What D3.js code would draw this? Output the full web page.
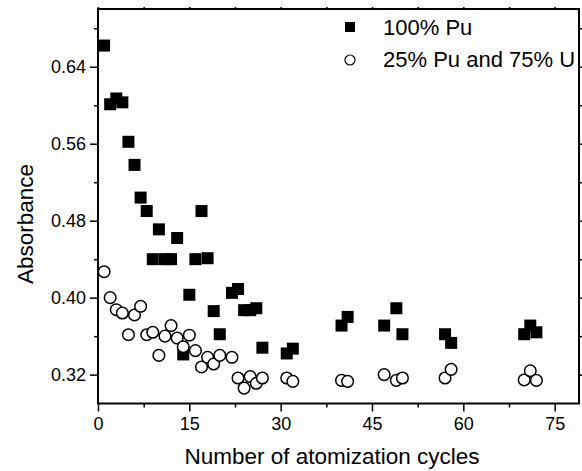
<!DOCTYPE html>
<html>
<head>
<meta charset="utf-8">
<script src="https://cdn.jsdelivr.net/npm/d3@7"></script>
<style>
  body { margin: 0; background: #fff; }
  svg { display: block; font-family: "Liberation Sans", Arial, sans-serif; }
</style>
</head>
<body>
<div id="chart"></div>
<script>
// data
let cyclesPu = [1, 2, 3, 4, 5, 6, 7, 8, 9, 10, 11, 12, 13, 14, 15, 16, 17, 18, 19, 20,
    22, 23, 24, 25, 26, 27, 31, 32, 40, 41, 47, 49, 50, 57, 58, 70, 71, 72];
let absPu = [0.662, 0.601, 0.607, 0.603, 0.562, 0.538, 0.504, 0.490, 0.440, 0.471,
    0.440, 0.440, 0.462, 0.341, 0.403, 0.440, 0.490, 0.441, 0.386, 0.362,
    0.405, 0.409, 0.387, 0.387, 0.389, 0.348, 0.342, 0.347, 0.371, 0.380,
    0.371, 0.389, 0.362, 0.362, 0.353, 0.362, 0.371, 0.364];

let cyclesMix = [1, 2, 3, 4, 5, 6, 7, 8, 9, 10, 11, 12, 13, 14, 15, 16, 17, 18, 19, 20,
    22, 23, 24, 25, 26, 27, 31, 32, 40, 41, 47, 49, 50, 57, 58, 70, 71, 72];
let absMix = [0.427, 0.400, 0.3875, 0.384, 0.3615, 0.382, 0.391, 0.3615, 0.364, 0.340,
    0.360, 0.371, 0.358, 0.349, 0.361, 0.345, 0.328, 0.338, 0.331, 0.340,
    0.338, 0.3165, 0.306, 0.318, 0.311, 0.3165, 0.3165, 0.313, 0.314, 0.313,
    0.320, 0.314, 0.3165, 0.3165, 0.3255, 0.3145, 0.324, 0.314];

let xMajor = [0, 15, 30, 45, 60, 75];
let xMinor = [7.5, 22.5, 37.5, 52.5, 67.5];
let yMajor = [0.32, 0.40, 0.48, 0.56, 0.64];
let yMinor = [0.36, 0.44, 0.52, 0.60, 0.68];

let seriesNames = ["100% Pu", "25% Pu and 75% U"];

let width = 582, height = 471;
let margin = { top: 9, right: 3, bottom: 67.5, left: 98 };
let w = width - margin.left - margin.right;
let h = height - margin.top - margin.bottom;

let svg = d3.select("#chart")
    .append("svg")
    .attr("width", width)
    .attr("height", height)
    .append("g")
    .attr("transform", `translate(${margin.left},${margin.top})`);

let x = d3.scaleLinear().domain([0, 79]).range([0, w]);
let y = d3.scaleLinear().domain([0.29, 0.70]).range([h, 0]);

// minor ticks first, then major axes on top
function styleAxis(g) {
    g.select(".domain").remove();
    g.selectAll(".tick line").attr("stroke", "#000").attr("stroke-width", 1.5);
    g.selectAll(".tick text").attr("fill", "#000").style("font-size", "18px");
}

svg.append("g")
    .attr("transform", `translate(0,${h})`)
    .call(d3.axisBottom(x).tickValues(xMinor).tickSize(4).tickFormat(""))
    .call(styleAxis);
svg.append("g")
    .attr("transform", `translate(0,${h})`)
    .call(d3.axisBottom(x).tickValues(xMajor).tickSize(8).tickPadding(6).tickFormat(d3.format("d")))
    .call(styleAxis);

svg.append("g")
    .call(d3.axisLeft(y).tickValues(yMinor).tickSize(4).tickFormat(""))
    .call(styleAxis);
svg.append("g")
    .call(d3.axisLeft(y).tickValues(yMajor).tickSize(8).tickPadding(4).tickFormat(d3.format(".2f")))
    .call(styleAxis);

// right and top mirror ticks (no labels)
svg.append("g")
    .attr("transform", `translate(${w},0)`)
    .call(d3.axisRight(y).tickValues(yMajor.concat(yMinor)).tickSize(4).tickFormat(""))
    .call(styleAxis);
svg.append("g")
    .call(d3.axisTop(x).tickValues(xMajor.concat(xMinor)).tickSize(2).tickFormat(""))
    .call(styleAxis);

// frame
svg.append("rect")
    .attr("x", 0).attr("y", 0)
    .attr("width", w).attr("height", h)
    .attr("fill", "none")
    .attr("stroke", "#000")
    .attr("stroke-width", 2);

// axis titles
svg.append("text")
    .attr("x", 234)
    .attr("y", h + 60)
    .attr("text-anchor", "middle")
    .style("font-size", "22.5px")
    .text("Number of atomization cycles");

svg.append("text")
    .attr("transform", "rotate(-90)")
    .attr("x", -215)
    .attr("y", -65)
    .attr("text-anchor", "middle")
    .style("font-size", "22.5px")
    .text("Absorbance");

// squares
let sq = 12;
svg.selectAll("rect.pu")
    .data(cyclesPu.map((c, i) => [c, absPu[i]]))
    .enter()
    .append("rect")
    .attr("class", "pu")
    .attr("x", d => x(d[0]) - sq / 2)
    .attr("y", d => y(d[1]) - sq / 2)
    .attr("width", sq)
    .attr("height", sq)
    .attr("fill", "#000");

// open circles
svg.selectAll("circle.mix")
    .data(cyclesMix.map((c, i) => [c, absMix[i]]))
    .enter()
    .append("circle")
    .attr("class", "mix")
    .attr("cx", d => x(d[0]))
    .attr("cy", d => y(d[1]))
    .attr("r", 5.8)
    .attr("fill", "#fff")
    .attr("stroke", "#000")
    .attr("stroke-width", 1.5);

// legend
let legend = svg.append("g").attr("transform", "translate(252,0)");
legend.append("rect")
    .attr("x", -5).attr("y", 13)
    .attr("width", 10).attr("height", 10)
    .attr("fill", "#000");
legend.append("circle")
    .attr("cx", 0).attr("cy", 51)
    .attr("r", 5)
    .attr("fill", "#fff")
    .attr("stroke", "#000")
    .attr("stroke-width", 1.2);
legend.selectAll("text")
    .data(seriesNames)
    .enter()
    .append("text")
    .attr("x", 33)
    .attr("y", (d, i) => 26 + i * 32)
    .style("font-size", "22px")
    .text(d => d);
</script>
</body>
</html>
